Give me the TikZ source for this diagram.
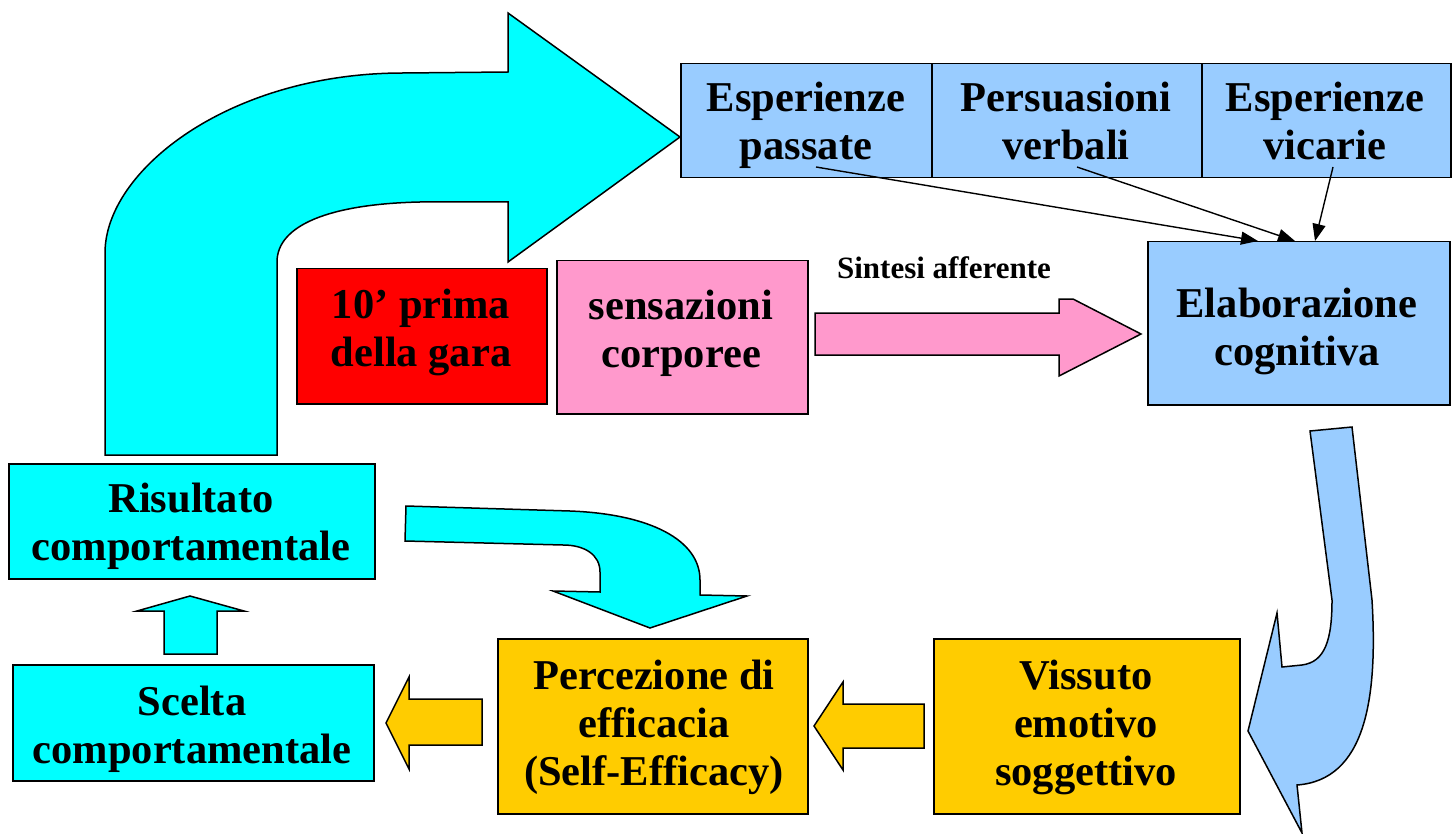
\documentclass[tikz,border=0pt]{standalone}
\usepackage{fontspec}
\setmainfont{Liberation Serif}
\usetikzlibrary{arrows.meta}
\definecolor{cyanA}{HTML}{00FFFF}
\definecolor{blueA}{HTML}{99CCFF}
\definecolor{pinkA}{HTML}{FF99CC}
\definecolor{redA}{HTML}{FF0000}
\definecolor{goldA}{HTML}{FFCC00}
\begin{document}
\begin{tikzpicture}[x=1pt,y=-1pt,
  box/.style={draw=black, line width=1.5pt, inner sep=0pt, anchor=north west},
  txt/.style={font=\fontsize{42.5}{48}\selectfont\bfseries, align=center, anchor=base, inner sep=0pt},
  blockarrow/.style={draw=black, line width=1.5pt, line join=miter},
  link/.style={-{Triangle[length=17pt,width=13pt]}, line width=1.4pt}]
\useasboundingbox (0,0) rectangle (1453,834);

% big cyan arrow
\draw[blockarrow, fill=cyanA] (105,455) -- (105,253) .. controls (105,170) and (230,73) .. (403,73) -- (508,72) -- (508,13) -- (680,137) -- (508,262) -- (508,202) -- (420,202) .. controls (330,204) and (277,225) .. (277,262) -- (277,455) -- cycle;

% boxes
\node[box, fill=blueA, minimum width=251pt, minimum height=114pt] (esp1) at (680,63) {};
\node[box, fill=blueA, minimum width=270pt, minimum height=114pt] (pers) at (931,63) {};
\node[box, fill=blueA, minimum width=249pt, minimum height=114pt] (esp2) at (1201,63) {};
\node[box, fill=blueA, minimum width=302pt, minimum height=163pt] (elab) at (1147,241) {};
\node[box, fill=redA, minimum width=250pt, minimum height=135pt] (red) at (296,268) {};
\node[box, fill=pinkA, minimum width=251pt, minimum height=153pt] (pink) at (556,260) {};
\node[box, fill=cyanA, minimum width=366pt, minimum height=115pt] (ris) at (8,463) {};
\node[box, fill=cyanA, minimum width=361pt, minimum height=116pt] (sce) at (12,664) {};
\node[box, fill=goldA, minimum width=310pt, minimum height=175pt] (perc) at (497,638) {};
\node[box, fill=goldA, minimum width=306pt, minimum height=175pt] (viss) at (933,638) {};

% texts (anchored at the baseline of the last line)
\node[txt] (esp1t) at (806,160) {Esperienze\\passate};
\node[txt] (perst) at (1066,160) {Persuasioni\\verbali};
\node[txt] (esp2t) at (1325,160) {Esperienze\\vicarie};
\node[txt] (elabt) at (1297,365) {Elaborazione\\cognitiva};
\node[txt] (redt) at (421,366) {10’ prima\\della gara};
\node[txt] (pinkt) at (681,367) {sensazioni\\corporee};
\node[txt] (rist) at (191,560) {Risultato\\comportamentale};
\node[txt] (scet) at (192,763) {Scelta\\comportamentale};
\node[txt] (perct) at (654,785) {Percezione di\\efficacia\\(Self-Efficacy)};
\node[txt] (visst) at (1086,785) {Vissuto\\emotivo\\soggettivo};
\node[font=\fontsize{31}{36}\selectfont\bfseries, anchor=base, inner sep=0pt] (sint) at (944,279) {Sintesi afferente};

% pink arrow
\draw[blockarrow, fill=pinkA] (815,313) -- (1059,313) -- (1059,299) -- (1073,299) -- (1141,334) -- (1059,376) -- (1059,355) -- (815,355) -- cycle;

% blue curved arrow
\draw[blockarrow, fill=blueA] (1310,431) -- (1352,427) -- (1372,600) .. controls (1378,700) and (1365,780) .. (1297,785) -- (1302,833) -- (1248,731) -- (1277,613) -- (1282,667) -- (1302,665) .. controls (1325,662) and (1332,640) .. (1332,600) -- cycle;

% cyan curved arrow
\draw[blockarrow, fill=cyanA] (406,506) -- (570,511) .. controls (650,514) and (700,540) .. (700,580) -- (700,595) -- (747,596) -- (650,628) -- (553,591) -- (600,592) -- (600,572) .. controls (600,555) and (585,545) .. (563,545) -- (405,541) -- cycle;

% small up arrow
\draw[blockarrow, fill=cyanA] (164,654) -- (164,611) -- (137,611) -- (190,596) -- (244,611) -- (217,611) -- (217,654) -- cycle;

% orange arrows
\draw[blockarrow, fill=goldA] (482,699) -- (409,699) -- (409,677) -- (386,723) -- (409,769) -- (409,745) -- (482,745) -- cycle;
\draw[blockarrow, fill=goldA] (924,704) -- (843,704) -- (843,682) -- (814,726) -- (843,770) -- (843,748) -- (924,748) -- cycle;

% connectors
\coordinate (s1) at (816,167);
\coordinate (s2) at (1077,167);
\coordinate (s3) at (1333,167);
\draw[link] (s1) -- ([xshift=111pt]elab.north west);
\draw[link] (s2) -- ([xshift=148pt]elab.north west);
\draw[link] (s3) -- ([xshift=168pt]elab.north west);
\end{tikzpicture}
\end{document}
